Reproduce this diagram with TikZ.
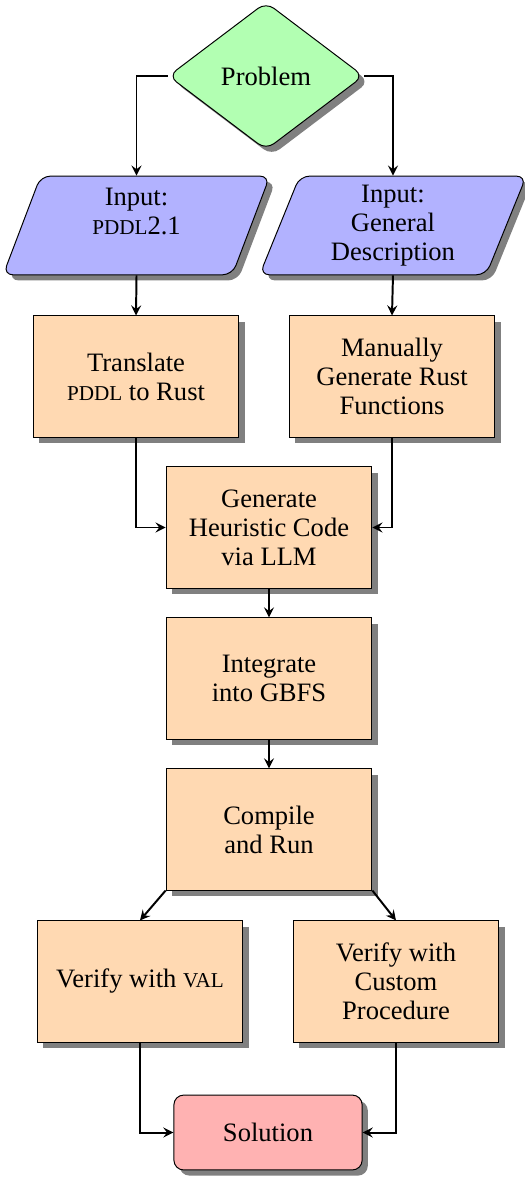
\documentclass[tikz,border=0pt]{standalone}
\usepackage{fontspec}
\setmainfont{Liberation Serif}
\usetikzlibrary{shapes.geometric,shadows}
\newcommand{\fakesc}[1]{{\fontsize{8.6pt}{11.8pt}\selectfont\MakeUppercase{#1}}}
\begin{document}
\begin{tikzpicture}[arrow/.style = {thick,-stealth},
        shade/.style = {drop shadow={opacity=1,fill=black!50}},
        decision/.style = {diamond, draw, fill=green!30, rounded corners,
            minimum width=2.79cm, minimum height=2.11cm, inner sep=0pt, shade},
        io/.style = {trapezium, trapezium left angle=65, trapezium right angle=115,
            trapezium stretches body, draw, fill=blue!30, rounded corners,
            minimum width=3.81cm, minimum height=1.41cm, inner sep=1pt,
            align=center, shade},
        process/.style = {rectangle, draw, fill=orange!30, minimum width=2.94cm,
            minimum height=1.73cm, align=center, shade},
        terminal/.style = {rectangle, draw, fill=red!30, rounded corners,
            minimum width=2.69cm, minimum height=1.07cm, shade},
        font=\fontsize{10.8pt}{11.8pt}\selectfont]
                \useasboundingbox (0,0) rectangle (7.5,-16.829);

                \node[decision] (problem) at (3.80,-1.086) {Problem};
                \node[io] (inpddl) at (1.95,-3.221)
                    {Input:\\\fakesc{pddl}2.1\\\mbox{}};
                \node[io] (indesc) at (5.614,-3.221)
                    {Input:\\General\\Description};
                \node[process] (translate) at (1.943,-5.379)
                    {Translate\\\fakesc{pddl} to Rust};
                \node[process] (manual) at (5.6,-5.379)
                    {Manually\\Generate Rust\\Functions};
                \node[process] (generate) at (3.843,-7.536)
                    {Generate\\Heuristic Code\\via LLM};
                \node[process] (integrate) at (3.843,-9.693)
                    {Integrate\\into GBFS};
                \node[process] (compile) at (3.843,-11.85)
                    {Compile\\and Run};
                \node[process] (verval) at (2.0,-14.021)
                    {Verify with \fakesc{val}};
                \node[process] (vercustom) at (5.657,-14.021)
                    {Verify with\\Custom\\Procedure};
                \node[terminal] (solution) at (3.829,-16.179) {Solution};

                \draw[arrow] (problem.west) -| (inpddl.north);
                \draw[arrow] (problem.east) -| (indesc.north);
                \draw[arrow] (inpddl.south) -- (translate.north);
                \draw[arrow] (indesc.south) -- (manual.north);
                \draw[arrow] (translate.south) |- (generate.west);
                \draw[arrow] (manual.south) |- (generate.east);
                \draw[arrow] (generate) -- (integrate);
                \draw[arrow] (integrate) -- (compile);
                \draw[arrow] (compile.south west) -- (verval.north);
                \draw[arrow] (compile.south east) -- (vercustom.north);
                \draw[arrow] (verval.south) |- (solution.west);
                \draw[arrow] (vercustom.south) |- (solution.east);
            \end{tikzpicture}
\end{document}
